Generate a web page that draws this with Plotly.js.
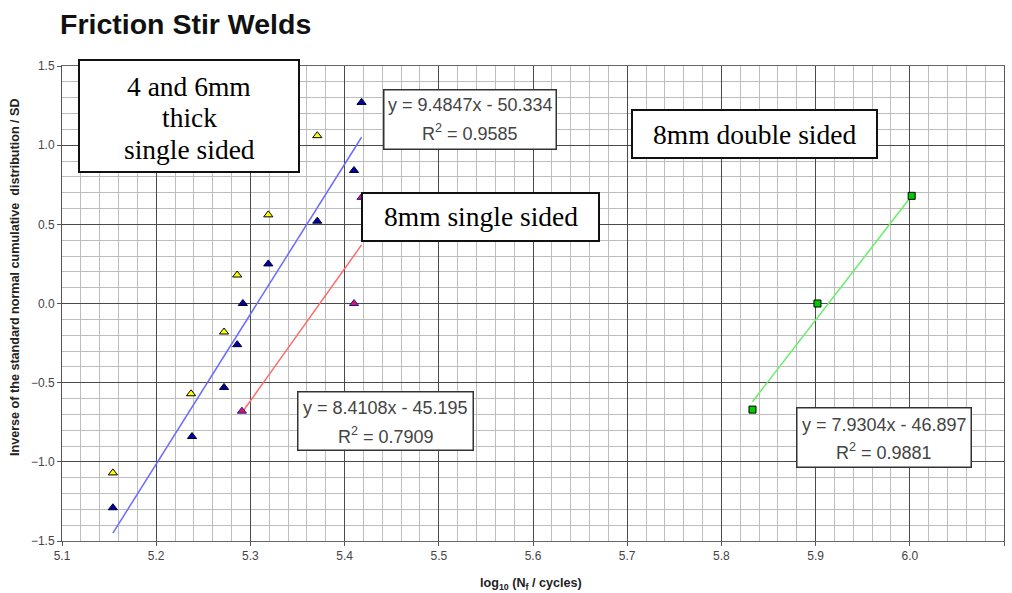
<!DOCTYPE html>
<html>
<head>
<meta charset="utf-8">
<script src="https://cdn.plot.ly/plotly-3.0.1.min.js"></script>
<style>html,body{margin:0;padding:0;background:#fff;}#chart{width:1012px;height:593px;}</style>
</head>
<body>
<div id="chart"></div>
<script>
// ---- data ----
const yellowX = [5.154, 5.237, 5.272, 5.286, 5.319, 5.371];
const yellowY = [-1.07, -0.57, -0.18, 0.18, 0.56, 1.06];
const blueX = [5.154, 5.238, 5.272, 5.286, 5.292, 5.319, 5.371, 5.410, 5.418];
const blueY = [-1.29, -0.84, -0.53, -0.26, 0.00, 0.25, 0.52, 0.84, 1.27];
const redX = [5.291, 5.410, 5.418];
const redY = [-0.68, 0.00, 0.67];
const greenX = [5.833, 5.902, 6.002];
const greenY = [-0.67, 0.00, 0.68];
// trendline end points (as drawn)
const blueTrendX = [5.154, 5.418];
const blueTrendY = [-1.45, 1.05];
const redTrendX = [5.291, 5.418];
const redTrendY = [-0.69, 0.37];
const greenTrendX = [5.833, 6.002];
const greenTrendY = [-0.62, 0.68];
const xTickVals = [5.1, 5.2, 5.3, 5.4, 5.5, 5.6, 5.7, 5.8, 5.9, 6.0, 6.1];
const yTickVals = [-1.5, -1.0, -0.5, 0.0, 0.5, 1.0, 1.5];
const eq1 = ["y = 9.4847x - 50.334", "R<sup>2</sup> = 0.9585"];
const eq2 = ["y = 8.4108x - 45.195", "R<sup>2</sup> = 0.7909"];
const eq3 = ["y = 7.9304x - 46.897", "R<sup>2</sup> = 0.9881"];
const label1 = ["4 and 6mm", "thick", "single sided"];
const label2 = ["8mm single sided"];
const label3 = ["8mm double sided"];

// ---- plot geometry helpers (pixels -> paper) ----
const L = 62, R = 1004, T = 66, B = 541;
const px = p => (p - L) / (R - L);
const py = p => (B - p) / (B - T);

const traces = [
  {x: blueTrendX, y: blueTrendY, mode: 'lines', line: {color: '#6b6bff', width: 1.5}, hoverinfo: 'skip'},
  {x: redTrendX, y: redTrendY, mode: 'lines', line: {color: '#ff6b6b', width: 1.5}, hoverinfo: 'skip'},
  {x: greenTrendX, y: greenTrendY, mode: 'lines', line: {color: '#66ee66', width: 1.5}, hoverinfo: 'skip'},
  {x: yellowX, y: yellowY, mode: 'markers', marker: {symbol: 'triangle-up', size: 8, color: '#ffff00', line: {color: '#000000', width: 1}}},
  {x: blueX, y: blueY, mode: 'markers', marker: {symbol: 'triangle-up', size: 8, color: '#0000a0', line: {color: '#000033', width: 1}}},
  {x: redX, y: redY, mode: 'markers', marker: {symbol: 'triangle-up', size: 8, color: '#e0105a', line: {color: '#1a1a9c', width: 1}}},
  {x: greenX, y: greenY, mode: 'markers', marker: {symbol: 'square', size: 7, color: '#00cc00', line: {color: '#000000', width: 1}}}
];

const annotations = [];
const shapes = [];
// a boxed group: white frame (shape), then each text line at its own vertical position
function boxed(lines, cx, cy, w, h, offsets, font, bw, bc) {
  shapes.push({type: 'rect', xref: 'paper', yref: 'paper', layer: 'above',
    x0: px(cx - w / 2 + bw / 2), x1: px(cx + w / 2 - bw / 2), y0: py(cy + h / 2 - bw / 2), y1: py(cy - h / 2 + bw / 2),
    fillcolor: '#ffffff', line: {color: bc, width: bw}});
  lines.forEach((t, i) => annotations.push({xref: 'paper', yref: 'paper', x: px(cx), y: py(cy + offsets[i]),
    xanchor: 'center', yanchor: 'middle', text: t, showarrow: false, font: font}));
}
const serif = {family: 'Liberation Serif, Times New Roman, serif', size: 27.5, color: '#000'};
const sans = {family: 'Liberation Sans, Arial, sans-serif', size: 18, color: '#444'};

boxed(label1, 189, 116, 222, 114, [-30, 1, 33], serif, 2, '#111');
boxed(label2, 480.5, 217, 239, 50, [0], serif, 2, '#111');
boxed(label3, 754.5, 134, 247, 50, [0], serif, 2, '#111');
boxed(eq1, 470, 119.5, 174, 61, [-15, 13], sans, 1.5, '#333');
boxed(eq2, 385.5, 421, 177, 60, [-13, 14], sans, 1.5, '#333');
boxed(eq3, 884, 437.5, 176, 61, [-13, 14], sans, 1.5, '#333');
annotations.push({xref: 'paper', yref: 'paper', x: px(15), y: py(277), xanchor: 'center', yanchor: 'middle', textangle: -90,
   text: '<b>Inverse of the standard normal cumulative  distribution / SD</b>', showarrow: false,
   font: {family: 'Liberation Sans, Arial, sans-serif', size: 12.6, color: '#222'}});
annotations.push({xref: 'paper', yref: 'paper', x: px(531), y: py(584), xanchor: 'center', yanchor: 'middle',
   text: '<b>log<sub>10</sub> (N<sub>f</sub> / cycles)</b>', showarrow: false,
   font: {family: 'Liberation Sans, Arial, sans-serif', size: 12.6, color: '#222'}});

const layout = {
  width: 1012, height: 593,
  margin: {l: L, r: 1012 - R, t: T, b: 593 - B},
  paper_bgcolor: '#ffffff', plot_bgcolor: '#ffffff',
  showlegend: false,
  title: {text: '<b>Friction Stir Welds</b>', x: 60 / 1012, xanchor: 'left', xref: 'container',
          y: 1 - 24 / 593, yanchor: 'middle', yref: 'container',
          font: {family: 'Liberation Sans, Arial, sans-serif', size: 28.5, color: '#111'}},
  xaxis: {range: [5.1, 6.1], tickvals: xTickVals, tickformat: '.1f', showgrid: true, gridcolor: '#4a4a4a', gridwidth: 1,
          zeroline: false, showline: true, linecolor: '#666', linewidth: 1, mirror: true,
          ticks: 'outside', ticklen: 4, tickcolor: '#555',
          tickfont: {family: 'Liberation Sans, Arial, sans-serif', size: 12, color: '#444'},
          minor: {dtick: 0.02, showgrid: true, gridcolor: '#bdbdbd', gridwidth: 1, ticks: ''}},
  yaxis: {range: [-1.5, 1.5], tickvals: yTickVals, tickformat: '.1f', showgrid: true, gridcolor: '#4a4a4a', gridwidth: 1,
          zeroline: false, showline: true, linecolor: '#555', linewidth: 1, mirror: true,
          ticks: 'outside', ticklen: 4, tickcolor: '#555',
          tickfont: {family: 'Liberation Sans, Arial, sans-serif', size: 12, color: '#444'},
          minor: {dtick: 0.1, showgrid: true, gridcolor: '#bdbdbd', gridwidth: 1, ticks: ''}},
  shapes: shapes,
  annotations: annotations
};

Plotly.newPlot('chart', traces, layout, {displayModeBar: false, staticPlot: true});
</script>
</body>
</html>
